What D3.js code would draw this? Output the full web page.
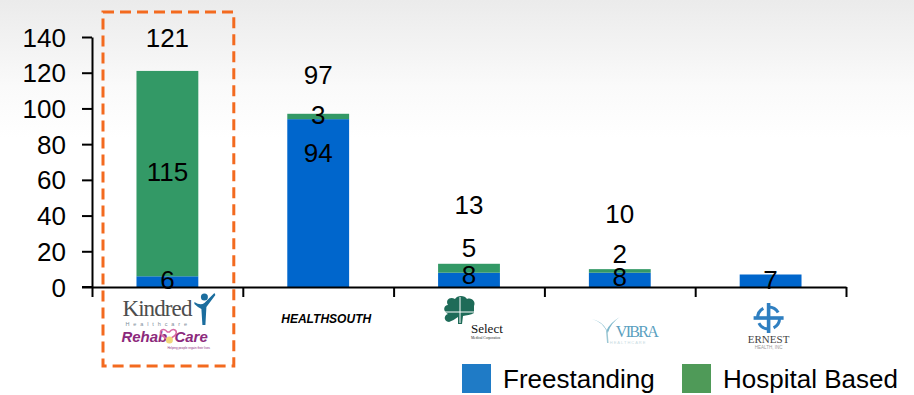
<!DOCTYPE html>
<html>
<head>
<meta charset="utf-8">
<script src="https://cdn.jsdelivr.net/npm/d3@7"></script>
<style>
  body { margin: 0; background: #fff; }
  svg { font-family: "Liberation Sans", Arial, sans-serif; }
  .axis path, .axis line { stroke: #000; stroke-width: 2; }
  .axis text { font-size: 26px; fill: #000; font-family: "Liberation Sans", Arial, sans-serif; }
  .serif { font-family: "Liberation Serif", "DejaVu Serif", serif; }
</style>
</head>
<body>
<svg id="chart"></svg>
<script>
// data
const companies = ["Kindred", "HealthSouth", "Select", "Vibra", "Ernest"];
const freestanding = [6, 94, 8, 8, 7];
const hospitalBased = [115, 3, 5, 2, 0];
const totals = [121, 97, 13, 10, null];
const yTicks = [0, 20, 40, 60, 80, 100, 120, 140];
// where the labels sit on the chart (in data units, as placed on the slide)
const totalLabelAt = [139.7, 118.7, 46.2, 40.9, null];
const hospLabelAt = [64.4, 96.3, 22.1, 18.5, null];
const freeLabelAt = [3.9, 75.3, 7.0, 5.6, 3.9];
const seriesNames = ["Freestanding", "Hospital Based"];

const config = {
    width: 914, height: 395,
    margin: {top: 37, right: 68, bottom: 108, left: 92}
};

const barColors = {free: "#0066cc", hosp: "#339966"};
const legendColors = ["#1f7bc6", "#4f9a58"];

const svg = d3.select("#chart")
    .attr("width", config.width)
    .attr("height", config.height);

// soft grey wash at the top, like the slide background
const defs = svg.append("defs");
const grad = defs.append("linearGradient")
    .attr("id", "bg").attr("x1", 0).attr("y1", 0).attr("x2", 0).attr("y2", 1);
grad.append("stop").attr("offset", "0%").attr("stop-color", "#ebebeb");
grad.append("stop").attr("offset", "22%").attr("stop-color", "#fafafa");
grad.append("stop").attr("offset", "35%").attr("stop-color", "#ffffff");
svg.append("rect").attr("width", config.width).attr("height", config.height).attr("fill", "url(#bg)");

const x0 = config.margin.left;
const x1 = config.width - config.margin.right;
const yBase = config.height - config.margin.bottom;

const xScale = d3.scaleBand().domain(companies).range([x0, x1]).padding(0);
const yScale = d3.scaleLinear().domain([0, 140]).range([yBase, config.margin.top]);
// category boundaries for the x tick marks
const edgeScale = d3.scaleLinear().domain([0, companies.length]).range([x0, x1]);

const barW = xScale.bandwidth() * 0.41;
const barX = d => xScale(d) + (xScale.bandwidth() - barW) / 2;
const midX = d => xScale(d) + xScale.bandwidth() / 2;

// bars
const g = svg.append("g");
g.selectAll(".free").data(companies).join("rect")
    .attr("class", "free")
    .attr("x", d => barX(d))
    .attr("width", barW)
    .attr("y", (d, i) => yScale(freestanding[i]))
    .attr("height", (d, i) => yScale(0) - yScale(freestanding[i]))
    .attr("fill", barColors.free);

g.selectAll(".hosp").data(companies.filter((d, i) => hospitalBased[i] > 0)).join("rect")
    .attr("class", "hosp")
    .attr("x", d => barX(d))
    .attr("width", barW)
    .attr("y", d => { const i = companies.indexOf(d); return yScale(freestanding[i] + hospitalBased[i]); })
    .attr("height", d => { const i = companies.indexOf(d); return yScale(freestanding[i]) - yScale(freestanding[i] + hospitalBased[i]); })
    .attr("fill", barColors.hosp);

// axes
const yAxis = d3.axisLeft(yScale).tickValues(yTicks).tickSize(10).tickSizeOuter(0).tickPadding(16);
svg.append("g").attr("class", "axis y-axis")
    .attr("transform", `translate(${x0},0)`)
    .call(yAxis)
    .call(s => s.selectAll("text").attr("dy", "0.35em"));

const xAxis = d3.axisBottom(edgeScale).ticks(companies.length).tickFormat("").tickSize(10).tickSizeOuter(0);
svg.append("g").attr("class", "axis x-axis")
    .attr("transform", `translate(0,${yBase})`)
    .call(xAxis);
// baseline reaches back to the y tick
svg.append("line").attr("x1", x0 - 10).attr("x2", x0).attr("y1", yBase).attr("y2", yBase)
    .attr("stroke", "#000").attr("stroke-width", 2);

// value labels
function addLabels(values, at) {
    svg.append("g").selectAll("text")
        .data(companies.map((c, i) => ({c, v: values[i], p: at[i]})).filter(d => d.v != null && d.p != null))
        .join("text")
        .attr("x", d => midX(d.c))
        .attr("y", d => yScale(d.p))
        .attr("dy", "0.36em")
        .attr("text-anchor", "middle")
        .attr("font-size", 26)
        .attr("fill", "#000")
        .text(d => d.v);
}
addLabels(totals, totalLabelAt);
addLabels(hospitalBased.map(v => v > 0 ? v : null), hospLabelAt);
addLabels(freestanding, freeLabelAt);

// dashed highlight around Kindred
svg.append("rect")
    .attr("x", xScale(companies[0]) + 11)
    .attr("y", 12)
    .attr("width", xScale.bandwidth() - 20)
    .attr("height", 354)
    .attr("fill", "none")
    .attr("stroke", "#f36a1f")
    .attr("stroke-width", 3)
    .attr("stroke-dasharray", "11,6");

// company logos (drawn as text + simple shapes)
const logoY = yBase;
// Kindred / RehabCare
{
    const cx = midX("Kindred");
    const lg = svg.append("g").attr("transform", `translate(${cx},${logoY})`);
    lg.append("text").attr("class", "serif").attr("x", -45).attr("y", 29)
        .attr("font-size", 23).attr("fill", "#4d4d4d").attr("textLength", 70).text("Kindred");
    // little figure with raised arm
    lg.append("circle").attr("cx", 37).attr("cy", 10).attr("r", 3.5).attr("fill", "#1b6d9e");
    lg.append("path").attr("d", "M27,15 Q33,19 37,16 L47,6 L48,8 L39,20 L38,38 L35,38 L34,22 Q30,20 27,17 Z")
        .attr("fill", "#1b6d9e");
    lg.append("text").attr("x", -42).attr("y", 39).attr("font-size", 5.5).attr("fill", "#7d8d9b")
        .attr("letter-spacing", 3.9).text("Healthcare");
    lg.append("text").attr("x", -46).attr("y", 55).attr("font-size", 15).attr("font-weight", "bold")
        .attr("font-style", "italic").attr("fill", "#8c2a7c").text("Rehab");
    lg.append("path").attr("d", "M0,45 C-4,40 -10,44 -5,49 L1,53 L7,49 C12,44 6,40 2,45 Z")
        .attr("fill", "none").attr("stroke", "#d86aa6").attr("stroke-width", 1.6);
    lg.append("circle").attr("cx", 2).attr("cy", 53).attr("r", 3.5).attr("fill", "#f0d77a");
    lg.append("text").attr("x", 7).attr("y", 55).attr("font-size", 15).attr("font-weight", "bold")
        .attr("font-style", "italic").attr("fill", "#8c2a7c").text("Care");
    lg.append("text").attr("x", 0).attr("y", 62).attr("font-size", 3).attr("fill", "#8c2a7c")
        .text("Helping people regain their lives");
}
// HealthSouth
{
    const cx = midX("HealthSouth");
    svg.append("text").attr("x", cx - 37).attr("y", logoY + 36)
        .attr("font-size", 13).attr("font-weight", "bold").attr("font-style", "italic")
        .attr("fill", "#000").attr("textLength", 90).attr("lengthAdjust", "spacingAndGlyphs")
        .text("HEALTHSOUTH");
}
// Select Medical
{
    const cx = midX("Select");
    const lg = svg.append("g").attr("transform", `translate(${cx},${logoY})`);
    lg.append("path")
        .attr("d", "M-12,47 C-18,46 -17,40 -13,39 C-19,36 -17,30 -13,30 C-16,25 -11,21 -6,24 C-4,20 4,20 6,24 C11,22 15,27 13,31 L13,38 C10,40 5,40 2,41 L1,49 L-3,49 L-3,42 C-6,44 -9,46 -12,47 Z")
        .attr("transform", "translate(-8,-12)")
        .attr("fill", "#1e6b58");
    lg.append("line").attr("x1", -9).attr("x2", -9).attr("y1", 10).attr("y2", 36).attr("stroke", "#fff").attr("stroke-width", 1);
    lg.append("line").attr("x1", -26).attr("x2", 6).attr("y1", 25).attr("y2", 25).attr("stroke", "#fff").attr("stroke-width", 1);
    lg.append("text").attr("class", "serif").attr("x", 2).attr("y", 46)
        .attr("font-size", 13).attr("fill", "#111").text("Select");
    lg.append("text").attr("class", "serif").attr("x", 2).attr("y", 52)
        .attr("font-size", 3.5).attr("fill", "#222").text("Medical Corporation");
}
// Vibra
{
    const cx = midX("Vibra");
    const lg = svg.append("g").attr("transform", `translate(${cx},${logoY})`);
    lg.append("path").attr("d", "M-28,32 Q-18,34 -12,46 Q-9,36 0,30 Q-10,36 -13,43 Q-18,34 -28,32 Z")
        .attr("fill", "#7fb8cc");
    lg.append("path").attr("d", "M-13,44 L-12,56").attr("stroke", "#9cc7d4").attr("stroke-width", 1.5);
    lg.append("text").attr("class", "serif").attr("x", -4).attr("y", 50)
        .attr("font-size", 16).attr("fill", "#5a9fc0").attr("textLength", 43).text("VIBRA");
    lg.append("text").attr("x", -10).attr("y", 57).attr("font-size", 4).attr("fill", "#c8dbe2")
        .attr("letter-spacing", 1).text("HEALTHCARE");
}
// Ernest Health
{
    const cx = midX("Ernest");
    const lg = svg.append("g").attr("transform", `translate(${cx - 2},${logoY})`);
    const ecy = 31;
    lg.append("circle").attr("cx", 0).attr("cy", ecy).attr("r", 11).attr("fill", "none")
        .attr("stroke", "#2f7fc1").attr("stroke-width", 3).attr("stroke-dasharray", "12,5");
    lg.append("rect").attr("x", -1.8).attr("y", ecy - 15).attr("width", 3.6).attr("height", 30).attr("fill", "#2f7fc1");
    lg.append("rect").attr("x", -15).attr("y", ecy - 1.8).attr("width", 30).attr("height", 3.6).attr("fill", "#2f7fc1");
    lg.append("text").attr("class", "serif").attr("x", 0).attr("y", 56).attr("text-anchor", "middle")
        .attr("font-size", 11).attr("fill", "#444").text("ERNEST");
    lg.append("text").attr("x", 0).attr("y", 62).attr("text-anchor", "middle")
        .attr("font-size", 4.5).attr("fill", "#999").text("HEALTH, INC");
}

// legend
const legendX = [462, 682];
const legend = svg.append("g").selectAll("g").data(seriesNames).join("g")
    .attr("transform", (d, i) => `translate(${legendX[i]},364)`);
legend.append("rect").attr("width", 29).attr("height", 29).attr("fill", (d, i) => legendColors[i]);
legend.append("text").attr("x", 41).attr("y", 24).attr("font-size", 26).attr("fill", "#000").text(d => d);
</script>
</body>
</html>
